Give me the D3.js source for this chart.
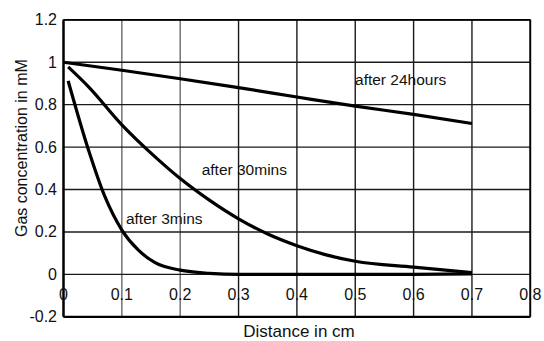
<!DOCTYPE html>
<html>
<head>
<meta charset="utf-8">
<script src="https://cdn.jsdelivr.net/npm/d3@7"></script>
<style>
  body { margin: 0; background: #fff; }
  svg { display: block; font-family: 'Liberation Sans', Arial, sans-serif; }
  .grid { stroke: #1a1a1a; stroke-width: 1.4; }
  .grid--light { stroke: #6a6a6a; }
  .curve { fill: none; stroke: #000; stroke-width: 3.2; stroke-linejoin: round; }
  .tick-label { font-size: 16px; fill: #111; }
  .axis-title { font-size: 16px; fill: #111; }
  .axis-title--x { font-size: 17px; }
  .curve-label { font-size: 15.5px; fill: #111; }
</style>
</head>
<body>
<svg id="chart"></svg>
<script>
const xTicks = [ 0, 0.1, 0.2, 0.3, 0.4, 0.5, 0.6, 0.7, 0.8 ]
const xTickLabels = [ '0', '0.1', '0.2', '0.3', '0.4', '0.5', '0.6', '0.7', '0.8' ]
const yTicks = [ -0.2, 0, 0.2, 0.4, 0.6, 0.8, 1, 1.2 ]
const yTickLabels = [ '-0.2', '0', '0.2', '0.4', '0.6', '0.8', '1', '1.2' ]

// distance (cm) / concentration (mM)
const dist24h = [ 0, 0.1, 0.2, 0.3, 0.4, 0.5, 0.6, 0.7 ]
const conc24h = [ 1.0, 0.962, 0.922, 0.88, 0.836, 0.793, 0.754, 0.711 ]

const dist30m = [ 0.008, 0.043, 0.1, 0.157, 0.2, 0.25, 0.3, 0.35, 0.4, 0.45, 0.5, 0.6, 0.7 ]
const conc30m = [ 0.978, 0.884, 0.705, 0.554, 0.452, 0.35, 0.262, 0.19, 0.135, 0.092, 0.062, 0.034, 0.008 ]

const dist3m = [ 0.008, 0.043, 0.071, 0.1, 0.128, 0.157, 0.2, 0.25, 0.3, 0.4, 0.5, 0.6, 0.7 ]
const conc3m = [ 0.912, 0.585, 0.366, 0.209, 0.115, 0.055, 0.02, 0.005, 0, 0, 0, 0, 0.002 ]

const curveLabels = [ 'after 24hours', 'after 30mins', 'after 3mins' ]
const labelPos = [ [ 0.4996, 0.892 ], [ 0.2368, 0.4686 ], [ 0.107, 0.2376 ] ]

const width = 544
const height = 341

const svg = d3.select('#chart')
    .attr('width', width)
    .attr('height', height)

const xScale = d3.scaleLinear()
    .domain([ 0, 0.8 ])
    .range([ 63.5, 530.3 ])

const yScale = d3.scaleLinear()
    .domain([ -0.2, 1.2 ])
    .range([ 316.8, 19.8 ])

// grid
svg.selectAll('.grid-v')
    .data(xTicks)
    .enter()
    .append('line')
    .attr('class', (d, i) => (i === 1 || i === 2) ? 'grid grid--light' : 'grid')
    .attr('x1', d => xScale(d))
    .attr('x2', d => xScale(d))
    .attr('y1', yScale(1.2))
    .attr('y2', yScale(-0.2))

svg.selectAll('.grid-h')
    .data(yTicks)
    .enter()
    .append('line')
    .attr('class', 'grid')
    .attr('x1', xScale(0))
    .attr('x2', xScale(0.8))
    .attr('y1', d => yScale(d))
    .attr('y2', d => yScale(d))

// frame
svg.append('line')
    .attr('x1', xScale(0)).attr('x2', xScale(0))
    .attr('y1', yScale(1.2)).attr('y2', yScale(-0.2))
    .attr('stroke', '#000').attr('stroke-width', 2.4)

svg.append('line')
    .attr('x1', xScale(0)).attr('x2', xScale(0.8))
    .attr('y1', yScale(-0.2)).attr('y2', yScale(-0.2))
    .attr('stroke', '#000').attr('stroke-width', 2.2)

svg.append('line')
    .attr('x1', xScale(0)).attr('x2', xScale(0.8))
    .attr('y1', yScale(1.2)).attr('y2', yScale(1.2))
    .attr('stroke', '#000').attr('stroke-width', 1.8)

svg.append('line')
    .attr('x1', xScale(0.8)).attr('x2', xScale(0.8))
    .attr('y1', yScale(1.2)).attr('y2', yScale(-0.2))
    .attr('stroke', '#000').attr('stroke-width', 1.8)

// y tick labels
svg.selectAll('.ylab')
    .data(yTicks)
    .enter()
    .append('text')
    .attr('class', 'tick-label')
    .attr('x', 57)
    .attr('y', d => yScale(d) + 5.5)
    .attr('text-anchor', 'end')
    .text((d, i) => yTickLabels[i])

// x tick labels sit inside the plot, just above the bottom frame
svg.selectAll('.xlab')
    .data(xTicks)
    .enter()
    .append('text')
    .attr('class', 'tick-label')
    .attr('x', d => xScale(d))
    .attr('y', yScale(-0.2) - 16.5)
    .attr('text-anchor', 'middle')
    .text((d, i) => xTickLabels[i])

// curves
const lineGen = d3.line()
    .x(d => xScale(d[0]))
    .y(d => yScale(d[1]))
    .curve(d3.curveMonotoneX)

const series = [
    d3.zip(dist24h, conc24h),
    d3.zip(dist30m, conc30m),
    d3.zip(dist3m, conc3m)
]

svg.selectAll('.curve')
    .data(series)
    .enter()
    .append('path')
    .attr('class', 'curve')
    .attr('d', d => lineGen(d))

svg.selectAll('.curve-label')
    .data(curveLabels)
    .enter()
    .append('text')
    .attr('class', 'curve-label')
    .attr('x', (d, i) => xScale(labelPos[i][0]))
    .attr('y', (d, i) => yScale(labelPos[i][1]))
    .text(d => d)

// axis titles
svg.append('text')
    .attr('class', 'axis-title')
    .attr('text-anchor', 'middle')
    .attr('transform', `translate(27,${yScale(0.595)}) rotate(-90)`)
    .text('Gas concentration in mM')

svg.append('text')
    .attr('class', 'axis-title axis-title--x')
    .attr('text-anchor', 'middle')
    .attr('x', 299)
    .attr('y', 336.5)
    .text('Distance in cm')
</script>
</body>
</html>
